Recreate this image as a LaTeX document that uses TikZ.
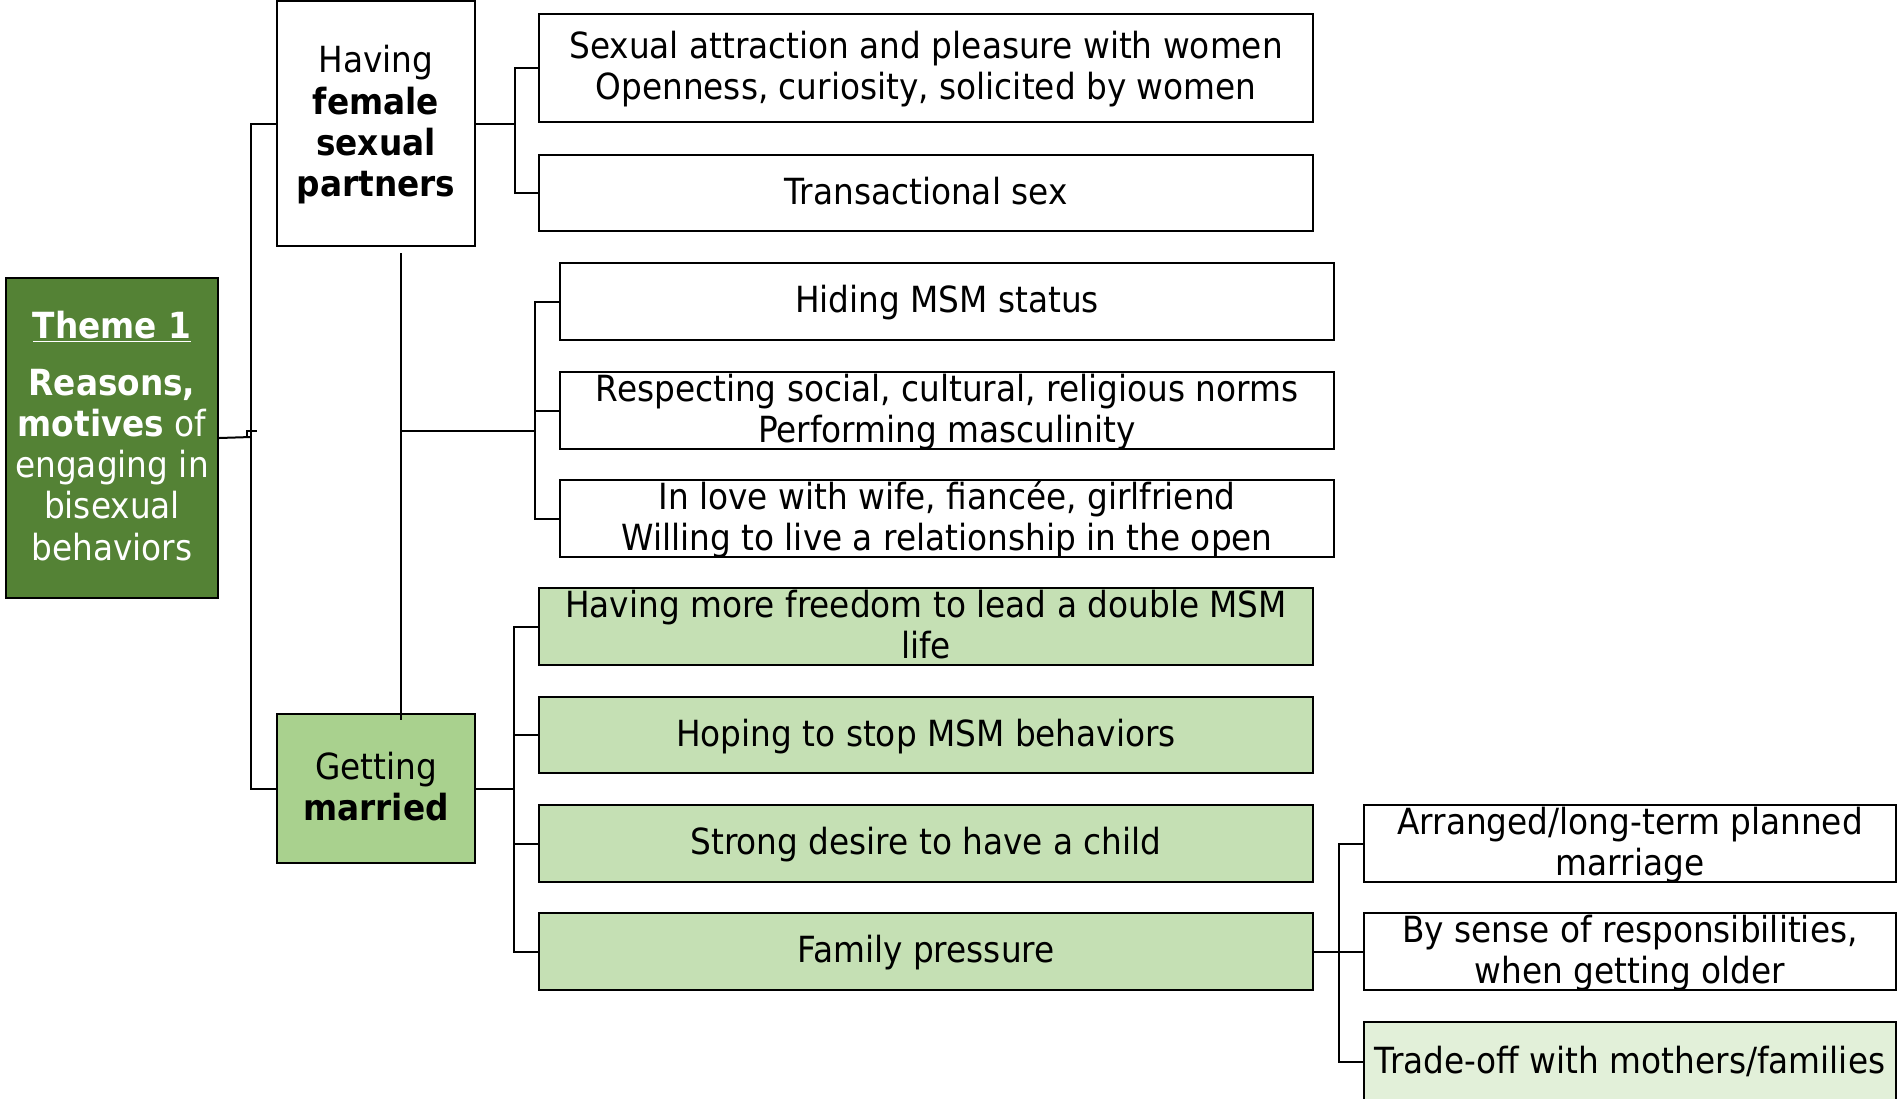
\documentclass[tikz,border=0pt]{standalone}
\usepackage{fontspec}
\setmainfont{DejaVu Sans}[FakeStretch=0.91]
\usetikzlibrary{fit}
\definecolor{darkg}{HTML}{548235}
\definecolor{midg}{HTML}{A9D18E}
\definecolor{lightg}{HTML}{C5E0B4}
\definecolor{paleg}{HTML}{E2F0D9}
\newcommand\ml[1]{\raisebox{-11.5pt}{\smash{\begin{tabular}{@{}c@{}}#1\end{tabular}}}}
\begin{document}
\begin{tikzpicture}[x=0.5pt,y=-0.5pt,
  bx/.style={draw=black, line width=1.2pt, inner sep=0pt, fill=white,
    font=\fontsize{18}{20.6}\selectfont},
  gbx/.style={bx, fill=lightg},
  ln/.style={draw=black, line width=1pt}]
\useasboundingbox (0,0) rectangle (1898,1098);
% left column
\node[bx, fill=darkg, text=white, fit={(6,278) (218,598)}] (theme)
  {\ml{\underline{\textbf{Theme 1}}\\[8pt]\textbf{Reasons,}\\\textbf{motives} of\\engaging in\\bisexual\\behaviors}};
\node[bx, fit={(277,1) (475,246)}] (having)
  {\ml{Having\\\textbf{female}\\\textbf{sexual}\\\textbf{partners}}};
\node[bx, fill=midg, fit={(277,714) (475,863)}] (getting)
  {\ml{Getting\\\textbf{married}}};
% upper branch
\node[bx, fit={(539,14) (1313,122)}] (sex)
  {\ml{Sexual attraction and pleasure with women\\Openness, curiosity, solicited by women}};
\node[bx, fit={(539,155) (1313,231)}] (trans) {\ml{Transactional sex}};
% middle branch
\node[bx, fit={(560,263) (1334,340)}] (hide) {\ml{Hiding MSM status}};
\node[bx, fit={(560,372) (1334,449)}] (resp)
  {\ml{Respecting social, cultural, religious norms\\Performing masculinity}};
\node[bx, fit={(560,480) (1334,557)}] (love)
  {\ml{In love with wife, fianc\'ee, girlfriend\\Willing to live a relationship in the open}};
% lower branch
\node[gbx, fit={(539,588) (1313,665)}] (free)
  {\ml{Having more freedom to lead a double MSM\\life}};
\node[gbx, fit={(539,697) (1313,773)}] (hoping) {\ml{Hoping to stop MSM behaviors}};
\node[gbx, fit={(539,805) (1313,882)}] (strong) {\ml{Strong desire to have a child}};
\node[gbx, fit={(539,913) (1313,990)}] (family) {\ml{Family pressure}};
% family sub-branch
\node[bx, fit={(1364,805) (1896,882)}] (arr) {\ml{Arranged/long-term planned\\marriage}};
\node[bx, fit={(1364,913) (1896,990)}] (sense)
  {\ml{By sense of responsibilities,\\when getting older}};
\node[bx, fill=paleg, fit={(1364,1022) (1896,1102)}] (trade) {\ml{Trade-off with mothers/families}};
% connectors
\coordinate (j1) at (251,437);
\draw[ln] (theme.east) -- (j1);
\draw[ln] (having.west) -| (j1) |- (getting.west);
\coordinate (tk1) at (247,437);
\coordinate (tk2) at (247,431);
\coordinate (tk3) at (257,431);
\draw[draw=black, line width=0.8pt] (tk1) -- (tk2) -- (tk3);
\path (having.east) ++(39,0) coordinate (j2);
\draw[ln] (having.east) -- (j2);
\draw[ln] (sex.west) -| (j2) |- (trans.west);
\coordinate (v1) at (401,253);
\coordinate (v2) at (401,720);
\coordinate (v3) at (401,431);
\coordinate (j3) at (535,431);
\draw[ln] (v1) -- (v2);
\draw[ln, line width=1.3pt] (v3) -- (j3);
\draw[ln] (hide.west) -| (j3) |- (love.west);
\draw[ln] (resp.west) -- (resp.west -| j3);
\path (getting.east) ++(38,0) coordinate (j4);
\draw[ln] (getting.east) -- (j4);
\draw[ln] (free.west) -| (j4) |- (family.west);
\draw[ln] (hoping.west) -- (hoping.west -| j4);
\draw[ln] (strong.west) -- (strong.west -| j4);
\path (family.east) ++(25,0) coordinate (j5);
\draw[ln] (family.east) -- (sense.west);
\draw[ln] (arr.west) -| (j5) |- (trade.west);
\end{tikzpicture}
\end{document}
